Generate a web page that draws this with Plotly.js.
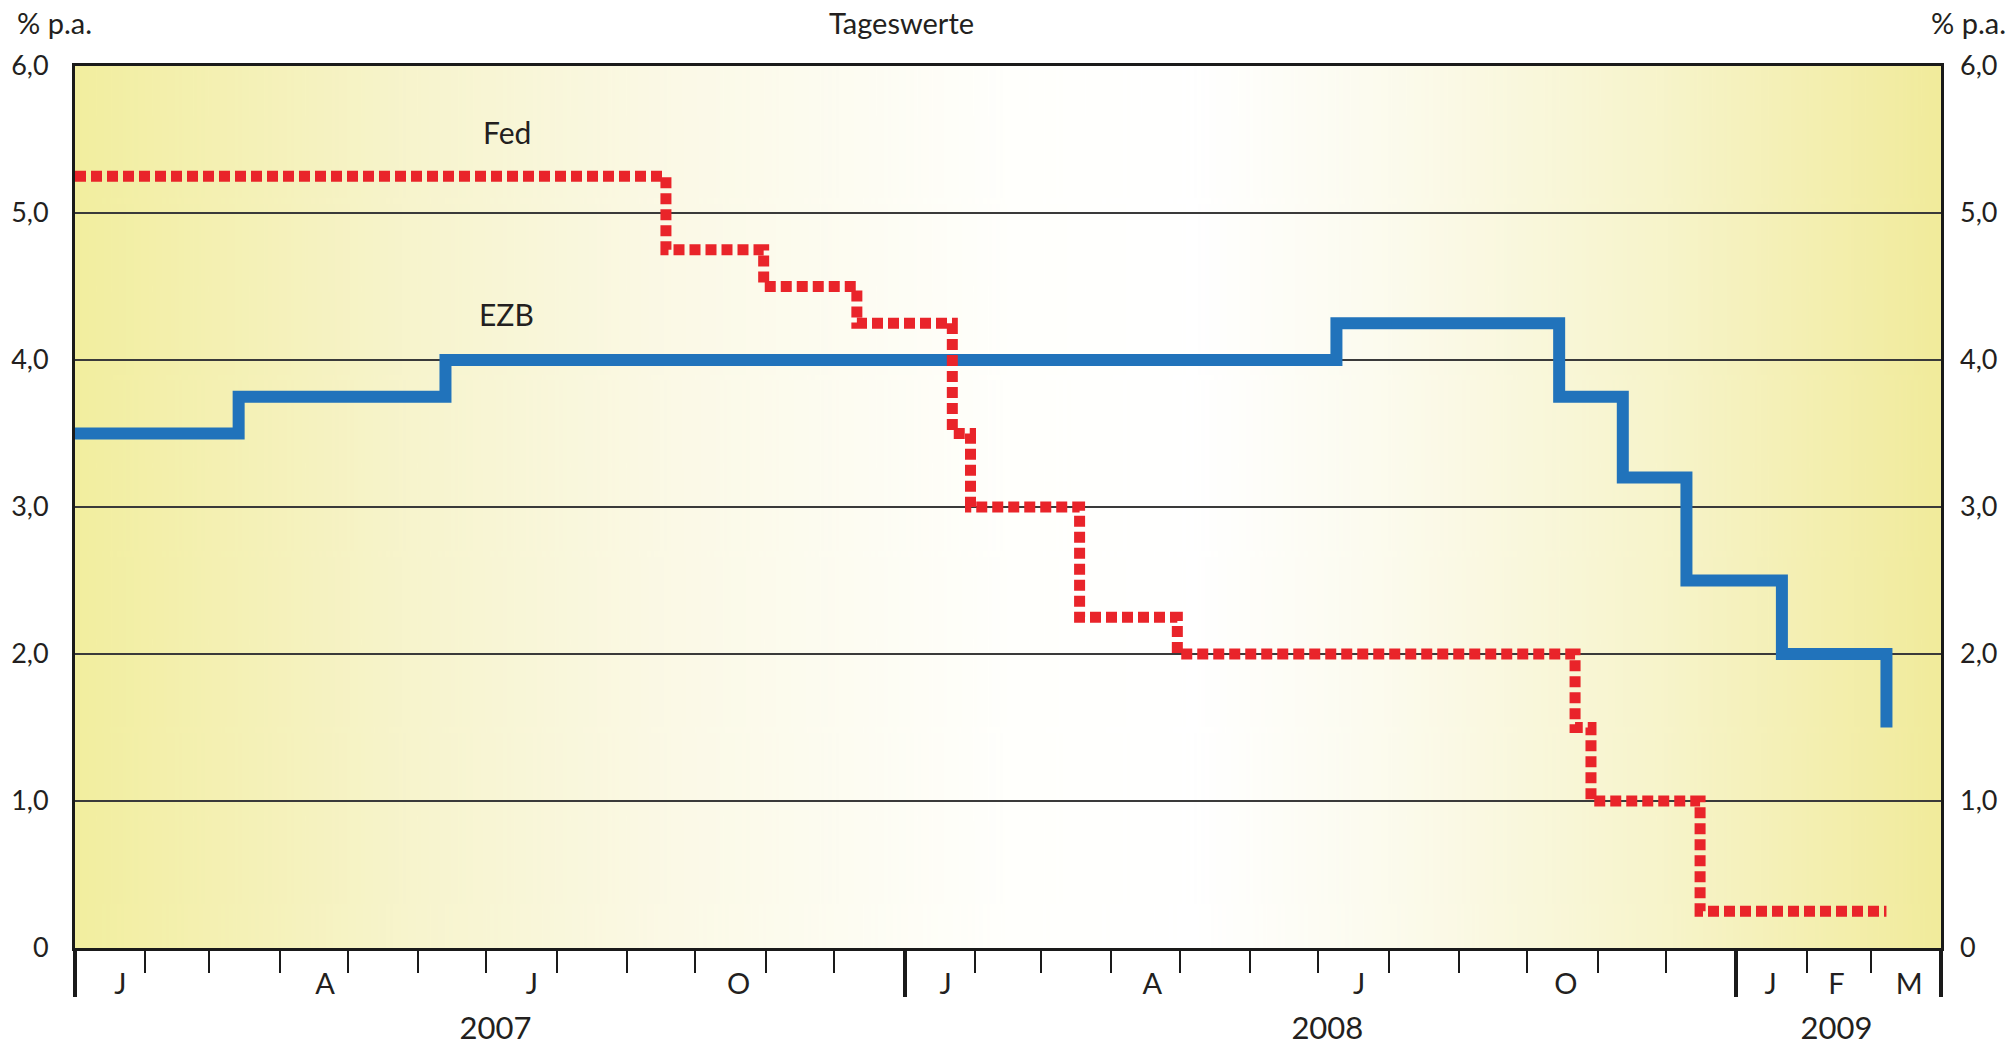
<!DOCTYPE html>
<html>
<head>
<meta charset="utf-8">
<script src="https://cdn.plot.ly/plotly-3.0.1.min.js"></script>
<style>
html,body{margin:0;padding:0;background:#fff;}
#chart{width:2013px;height:1046px;}
</style>
</head>
<body>
<div id="chart"></div>
<script>
// ---- data ----
var ezbDates = ['2007-01-01','2007-03-14','2007-06-13','2008-07-09','2008-10-15','2008-11-12','2008-12-10','2009-01-21','2009-03-08'];
var ezbRates = [3.50, 3.75, 4.00, 4.25, 3.75, 3.20, 2.50, 2.00, 1.50];

var fedDates = ['2007-01-01','2007-09-18','2007-10-31','2007-12-11','2008-01-22','2008-01-30','2008-03-18','2008-04-30','2008-10-22','2008-10-29','2008-12-16','2009-03-08'];
var fedRates = [5.25, 4.75, 4.50, 4.25, 3.50, 3.00, 2.25, 2.00, 1.50, 1.00, 0.25, 0.25];

var yTickVals = [0, 1, 2, 3, 4, 5, 6];
var yTickText = ['0', '1,0', '2,0', '3,0', '4,0', '5,0', '6,0'];

var monthLabelDates = ['2007-01-21','2007-04-21','2007-07-21','2007-10-20','2008-01-19','2008-04-19','2008-07-19','2008-10-18','2009-01-16','2009-02-14','2009-03-18'];
var monthLabels = ['J','A','J','O','J','A','J','O','J','F','M'];

var yearLabelDates = ['2007-07-05','2008-07-05','2009-02-14'];
var yearLabels = ['2007','2008','2009'];

var yearBoundaries = ['2007-01-01','2008-01-01','2009-01-01','2009-04-01'];
var xRange = ['2007-01-01','2009-04-01'];

// ---- background gradient ----
var cv = document.createElement('canvas');
cv.width = 1000; cv.height = 10;
var cx = cv.getContext('2d');
var g = cx.createLinearGradient(0, 0, 1000, 0);
g.addColorStop(0.00, '#f2ee9f');
g.addColorStop(0.18, '#f7f4cd');
g.addColorStop(0.32, '#fbf9e6');
g.addColorStop(0.50, '#fffffc');
g.addColorStop(0.60, '#ffffff');
g.addColorStop(0.70, '#fcfbee');
g.addColorStop(0.85, '#f7f4cb');
g.addColorStop(1.00, '#f1eb9b');
cx.fillStyle = g;
cx.fillRect(0, 0, 1000, 10);
var bgURL = cv.toDataURL('image/png');

var FONT = 'Lato, "Open Sans", sans-serif';
var TXT = '#231f20';

function ghost(xa, ya) {
  return {x: xRange, y: [0, 0], xaxis: xa, yaxis: ya, type: 'scatter', mode: 'markers',
          marker: {opacity: 0, size: 1}, hoverinfo: 'skip', showlegend: false};
}

var traces = [
  ghost('x2', 'y'), ghost('x3', 'y'), ghost('x4', 'y'), ghost('x', 'y2'),
  {
    x: ezbDates, y: ezbRates, type: 'scatter', mode: 'lines',
    line: {shape: 'hv', color: '#2173bb', width: 12},
    hoverinfo: 'skip', showlegend: false
  },
  {
    x: fedDates, y: fedRates, type: 'scatter', mode: 'lines',
    line: {shape: 'hv', color: '#e9242a', width: 11, dash: '11px,5px'},
    hoverinfo: 'skip', showlegend: false
  }
];

var layout = {
  width: 2013, height: 1046,
  margin: {l: 75, r: 72, t: 66, b: 98},
  paper_bgcolor: '#ffffff',
  plot_bgcolor: 'rgba(0,0,0,0)',
  font: {family: FONT, color: TXT},
  showlegend: false,
  images: [{
    source: bgURL, xref: 'paper', yref: 'paper',
    x: 0, y: 1, sizex: 1, sizey: 1, sizing: 'stretch',
    xanchor: 'left', yanchor: 'top', layer: 'below'
  }],
  xaxis: {
    type: 'date', range: xRange,
    tick0: '2007-01-01', dtick: 'M1',
    ticks: 'outside', ticklen: 22, tickwidth: 2, tickcolor: '#1a1a1a',
    showticklabels: false, showgrid: false, zeroline: false,
    showline: true, linewidth: 3, linecolor: '#1a1a1a', mirror: true
  },
  xaxis2: {
    type: 'date', range: xRange, overlaying: 'x', anchor: 'y', side: 'bottom',
    tickmode: 'array', tickvals: yearBoundaries,
    ticks: 'outside', ticklen: 48, tickwidth: 4, tickcolor: '#1a1a1a',
    showticklabels: false, showgrid: false, zeroline: false, showline: false
  },
  xaxis3: {
    type: 'date', range: xRange, overlaying: 'x', anchor: 'y', side: 'bottom',
    tickmode: 'array', tickvals: monthLabelDates, ticktext: monthLabels,
    ticks: '', ticklabelstandoff: 16,
    tickfont: {family: FONT, size: 29, color: TXT},
    showgrid: false, zeroline: false, showline: false
  },
  xaxis4: {
    type: 'date', range: xRange, overlaying: 'x', anchor: 'y', side: 'bottom',
    tickmode: 'array', tickvals: yearLabelDates, ticktext: yearLabels,
    ticks: '', ticklabelstandoff: 59,
    tickfont: {family: FONT, size: 31, color: TXT},
    showgrid: false, zeroline: false, showline: false
  },
  yaxis: {
    range: [0, 6], tickmode: 'array', tickvals: yTickVals, ticktext: yTickText,
    ticks: '', ticklabelstandoff: 18,
    tickfont: {family: FONT, size: 27, color: TXT},
    showgrid: true, gridcolor: '#3a3a3a', gridwidth: 1.5, zeroline: false,
    showline: true, linewidth: 3, linecolor: '#1a1a1a', mirror: true
  },
  yaxis2: {
    range: [0, 6], overlaying: 'y', side: 'right', anchor: 'x',
    tickmode: 'array', tickvals: yTickVals, ticktext: yTickText,
    ticks: '', ticklabelstandoff: 18,
    tickfont: {family: FONT, size: 27, color: TXT},
    showgrid: false, zeroline: false, showline: false
  },
  annotations: [
    {text: '% p.a.', xref: 'paper', yref: 'paper', x: -0.0322, y: 1.049, xanchor: 'left', yanchor: 'middle', showarrow: false, font: {family: FONT, size: 29, color: TXT}},
    {text: '% p.a.', xref: 'paper', yref: 'paper', x: 1.0359, y: 1.049, xanchor: 'right', yanchor: 'middle', showarrow: false, font: {family: FONT, size: 29, color: TXT}},
    {text: 'Tageswerte', xref: 'paper', yref: 'paper', x: 0.4427, y: 1.049, xanchor: 'center', yanchor: 'middle', showarrow: false, font: {family: FONT, size: 29, color: TXT}},
    {text: 'Fed', xref: 'x', yref: 'y', x: '2007-07-10', y: 5.55, xanchor: 'center', yanchor: 'middle', showarrow: false, font: {family: FONT, size: 30, color: TXT}},
    {text: 'EZB', xref: 'x', yref: 'y', x: '2007-07-10', y: 4.31, xanchor: 'center', yanchor: 'middle', showarrow: false, font: {family: FONT, size: 30, color: TXT}}
  ]
};

Plotly.newPlot('chart', traces, layout, {staticPlot: true, displayModeBar: false});
</script>
</body>
</html>
